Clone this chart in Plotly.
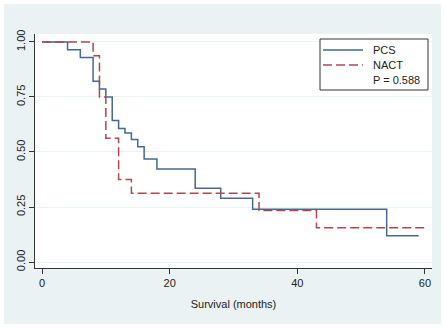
import plotly.graph_objects as go

# Kaplan-Meier step data
pcs_time = [0, 4, 6, 8, 9, 10, 11, 12, 13, 14, 15, 16, 18, 24, 28, 33, 54, 59]
pcs_surv = [1.0, 0.964, 0.929, 0.821, 0.786, 0.75, 0.643, 0.607, 0.586, 0.557,
            0.524, 0.468, 0.423, 0.335, 0.29, 0.24, 0.12, 0.12]

nact_time = [0, 8, 9, 10, 12, 14, 34, 43, 60]
nact_surv = [1.0, 0.9375, 0.75, 0.5625, 0.375, 0.3125, 0.234, 0.156, 0.156]

x_ticks = [0, 20, 40, 60]
y_ticks = [0, 0.25, 0.5, 0.75, 1.0]
series_names = ["PCS", "NACT"]
p_label = "P = 0.588"

W, H = 445, 328
L, R, T, B = 35, 13, 34, 60
pw, ph = W - L - R, H - T - B

BLUE = "#46698d"
RED = "#ad4853"
DASH = "9px,4px"


def px_x(p):
    return (p - L) / pw


def px_y(p):
    return (H - B - p) / ph


fig = go.Figure()
fig.add_trace(go.Scatter(x=pcs_time, y=pcs_surv, mode="lines", name=series_names[0],
                         line=dict(shape="hv", color=BLUE, width=1.5)))
fig.add_trace(go.Scatter(x=nact_time, y=nact_surv, mode="lines", name=series_names[1],
                         line=dict(shape="hv", color=RED, width=1.5, dash=DASH)))

font = "Liberation Sans, Arial, sans-serif"

# white outer frame around the light background
fig.add_shape(type="rect", xref="paper", yref="paper",
              x0=px_x(0), x1=px_x(W), y0=px_y(H), y1=px_y(0),
              line=dict(color="white", width=8), fillcolor="rgba(0,0,0,0)",
              layer="below")

# legend box (drawn to match the compact Stata legend)
fig.add_shape(type="rect", xref="paper", yref="paper",
              x0=px_x(320), x1=px_x(428), y0=px_y(90), y1=px_y(39),
              line=dict(color="#333333", width=1), fillcolor="white",
              layer="above")
fig.add_shape(type="line", xref="paper", yref="paper",
              x0=px_x(323), x1=px_x(363), y0=px_y(50), y1=px_y(50),
              line=dict(color=BLUE, width=1.5))
fig.add_shape(type="line", xref="paper", yref="paper",
              x0=px_x(323), x1=px_x(363), y0=px_y(65), y1=px_y(65),
              line=dict(color=RED, width=1.5, dash=DASH))
for txt, yy in zip(series_names + [p_label], [50, 65, 80]):
    fig.add_annotation(text=txt, xref="paper", yref="paper",
                       x=px_x(371), y=px_y(yy), xanchor="left", yanchor="middle",
                       showarrow=False, font=dict(size=11, color="#222222"))

fig.update_layout(
    width=W, height=H,
    margin=dict(l=L, r=R, t=T, b=B),
    paper_bgcolor="#eaf2f3",
    plot_bgcolor="white",
    font=dict(family=font, size=11, color="#222222"),
    showlegend=False,
    xaxis=dict(range=[-1.1, 61.1], tickvals=x_ticks, showgrid=False,
               zeroline=False, showline=True, linecolor="#333333", linewidth=1,
               ticks="outside", ticklen=5, tickcolor="#333333",
               title=dict(text="Survival (months)", font=dict(size=11),
                          standoff=12)),
    yaxis=dict(range=[-0.027, 1.036], tickvals=y_ticks, tickformat=".2f",
               tickangle=-90, showgrid=True, gridcolor="#eaf2f3", gridwidth=1,
               zeroline=False, showline=True, linecolor="#333333", linewidth=1,
               ticks="outside", ticklen=5, tickcolor="#333333"),
)

fig.write_html("out.html")
